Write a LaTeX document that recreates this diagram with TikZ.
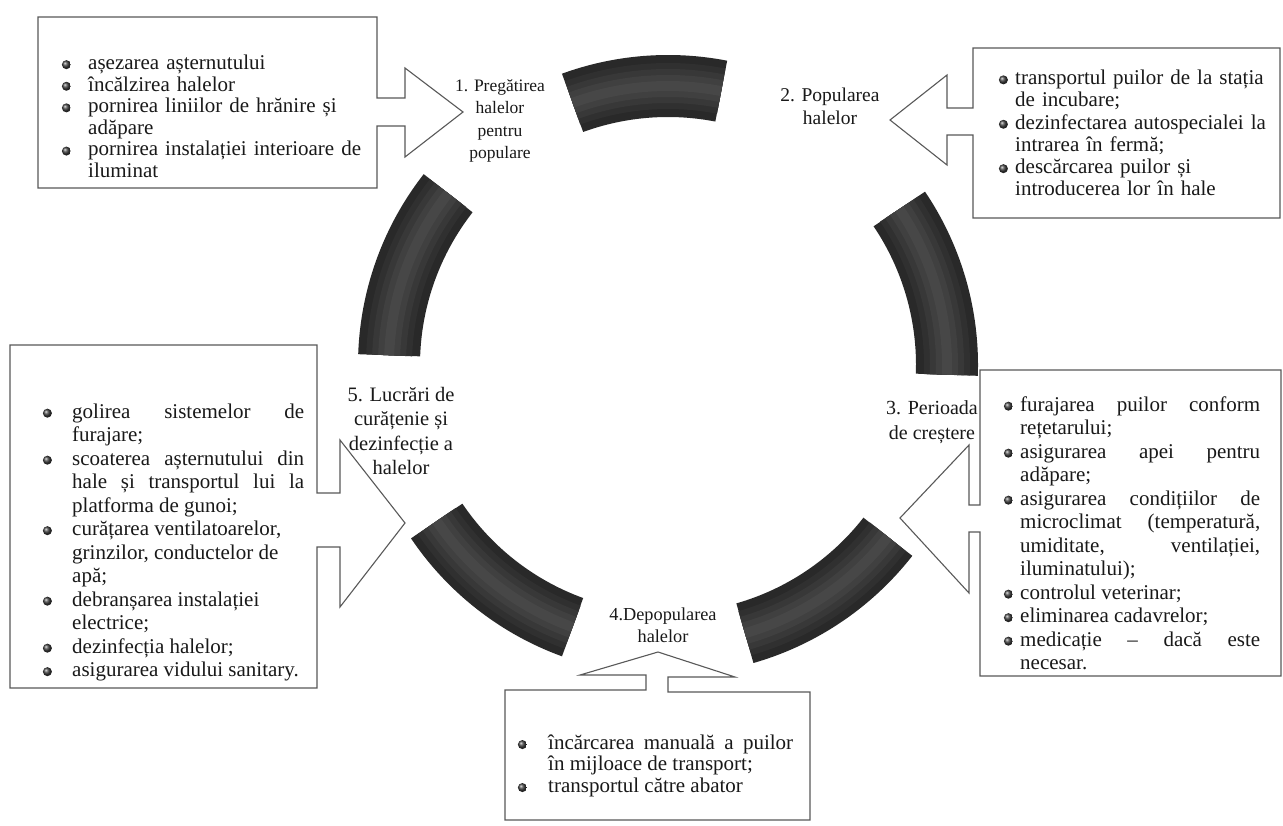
\documentclass[tikz,border=0pt]{standalone}
\usepackage{fontspec}
\setmainfont{Liberation Serif}
\usetikzlibrary{calc}
\hyphenpenalty=10000
\exhyphenpenalty=10000
\tolerance=9999
\hbadness=10000
\newlength\bhang
\newcommand\bul{\tikz[x=1cm,y=1cm,baseline={(0,-0.23em)}]{\shade[ball color=black!75] (0,0) circle[radius=4.5pt];}}
\newcommand\bitem[1]{\par\noindent\hangindent=\bhang\hangafter=1\makebox[\bhang][l]{\bul}\strut#1}
\newcommand\bitemr[1]{\par\noindent\hangindent=\bhang\hangafter=1\rightskip=0pt plus 1fil\makebox[\bhang][l]{\bul}\strut#1}
\newcommand\ringarc[3]{\draw[#3] ([shift={(-#1:279)}]O) arc[start angle=-#1,end angle=-#2,radius=279];}
\newcommand\ringseg[2]{%
  \fill[segdark] ([shift={(-#1:310)}]O) arc[start angle=-#1,end angle=-#2,radius=310]
     -- ([shift={(-#2:248)}]O) arc[start angle=-#2,end angle=-#1,radius=248] -- cycle;
  \ringarc{#1}{#2}{draw=black!81,line width=46}
  \ringarc{#1}{#2}{draw=black!78,line width=34}
  \ringarc{#1}{#2}{draw=black!75,line width=22}
  \ringarc{#1}{#2}{draw=black!72,line width=10}
}
\begin{document}
\begin{tikzpicture}[x=1pt,y=-1pt,
  box/.style={draw=black!65,line width=1.1pt,fill=white,line join=miter},
  lbl/.style={align=center,text=black!90,inner sep=0pt},
  tb/.style={anchor=north west,inner sep=0pt,text=black!90},
  segdark/.style={fill=black!84},
  ]
\fill[white] (0,0) rectangle (1283,825);
\useasboundingbox (0,0) rectangle (1283,825);
\coordinate (O) at (668,365);

% ring segments
\ringseg{79}{110}
\ringseg{-2}{34}
\ringseg{-74}{-38}
\ringseg{-146}{-110}
\ringseg{142}{178}

% callout boxes
\draw[box] (38,17) -- (377,17) -- (377,98) -- (405,98) -- (405,68) -- (463,112)
  -- (405,157) -- (405,126) -- (377,126) -- (377,188) -- (38,188) -- cycle;
\draw[box] (973,48) -- (1280,48) -- (1280,218) -- (973,218) -- (973,135) -- (947,135)
  -- (947,165) -- (890,120) -- (947,75) -- (947,108) -- (973,108) -- cycle;
\draw[box] (980,370) -- (1281,370) -- (1281,676) -- (980,676) -- (980,532) -- (969,532)
  -- (969,593) -- (900,518) -- (969,445) -- (969,505) -- (980,505) -- cycle;
\draw[box] (10,345) -- (317,345) -- (317,493) -- (340,493) -- (340,440) -- (405,523)
  -- (340,607) -- (340,547) -- (317,547) -- (317,688) -- (10,688) -- cycle;
\draw[box] (505,690) -- (646,690) -- (646,675) -- (580,675) -- (658,652) -- (735,677)
  -- (668,677) -- (668,692) -- (810,692) -- (810,820) -- (505,820) -- cycle;

% stage labels
\node[lbl,font={\fontsize{17.5}{22.3}\selectfont}] (l1) at (500,121) {1. Pregătirea\\halelor\\pentru\\populare};
\node[lbl,font={\fontsize{19.5}{23}\selectfont}] (l2) at (830,106) {2. Popularea\\halelor};
\node[lbl,font={\fontsize{20}{25}\selectfont}] (l3) at (932,422) {3. Perioada\\de creștere};
\node[lbl,font={\fontsize{18.3}{22}\selectfont}] (l4) at (663,625) {4.Depopularea\\halelor};
\node[lbl,font={\fontsize{20.5}{24.3}\selectfont}] (l5) at (401,431) {5. Lucrări de\\curățenie și\\dezinfecție a\\halelor};

% box texts
\node[tb,text width=301pt,align=left,font={\fontsize{21}{21.6}\selectfont}] (t1) at (61.7,47.7)
 {\setlength\bhang{26.3pt}%
  \bitem{așezarea așternutului}%
  \bitem{încălzirea halelor}%
  \bitem{pornirea liniilor de hrănire și adăpare}%
  \bitem{pornirea instalației interioare de iluminat}\par};
\node[tb,text width=272pt,align=left,font={\fontsize{21}{22.2}\selectfont}] (t2) at (998.7,62.3)
 {\setlength\bhang{16.3pt}%
  \bitem{transportul puilor de la stația de incubare;}%
  \bitem{dezinfectarea autospecialei la intrarea în fermă;}%
  \bitem{descărcarea puilor și introducerea lor în hale}\par};
\node[tb,text width=256.3pt,align=justify,font={\fontsize{21}{23.5}\selectfont}] (t3) at (1003.7,387.3)
 {\setlength\bhang{16.3pt}%
  \bitem{furajarea puilor conform rețetarului;}%
  \bitem{asigurarea apei pentru adăpare;}%
  \bitem{asigurarea condițiilor de microclimat (temperatură, umiditate, ventilației, iluminatului);}%
  \bitem{controlul veterinar;}%
  \bitem{eliminarea cadavrelor;}%
  \bitem{medicație -- dacă este necesar.}\par};
\node[tb,text width=261.3pt,align=justify,font={\fontsize{21}{23.5}\selectfont}] (t5) at (42.7,394.3)
 {\setlength\bhang{29.3pt}%
  \bitem{golirea sistemelor de furajare;}%
  \bitem{scoaterea așternutului din hale și transportul lui la platforma de gunoi;}%
  \bitemr{curățarea ventilatoarelor, grinzilor, conductelor de apă;}%
  \bitemr{debranșarea instalației electrice;}%
  \bitemr{dezinfecția halelor;}%
  \bitemr{asigurarea vidului sanitary.}\par};
\node[tb,text width=275.3pt,align=justify,font={\fontsize{21}{21.5}\selectfont}] (t4) at (517.7,727.7)
 {\setlength\bhang{30.3pt}%
  \bitem{încărcarea manuală a puilor în mijloace de transport;}%
  \bitem{transportul către abator}\par};
\end{tikzpicture}
\end{document}
